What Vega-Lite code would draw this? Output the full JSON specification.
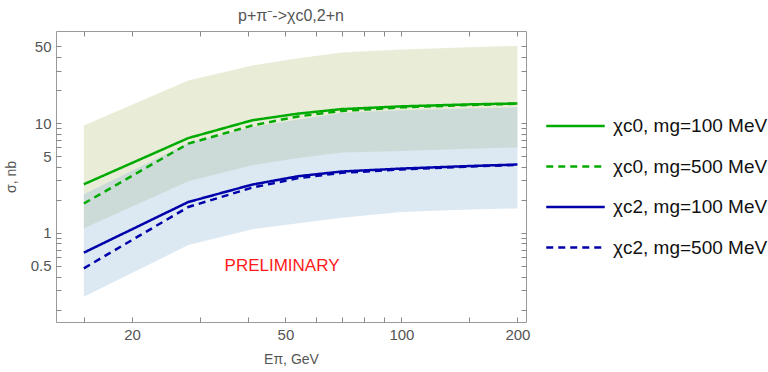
{
  "$schema": "https://vega.github.io/schema/vega-lite/v6.json",
  "autosize": "none",
  "width": 470,
  "height": 291,
  "padding": {"left": 56, "top": 31, "right": 242, "bottom": 50},
  "background": "white",
  "config": {
    "font": "Liberation Sans",
    "view": {"stroke": "#9a9a9a", "strokeWidth": 1},
    "axis": {"domain": false, "grid": false, "labelColor": "#555", "labelFontSize": 15, "titleColor": "#555", "titleFontSize": 14, "titleFontWeight": "normal", "tickColor": "#888", "tickSize": -5, "labelPadding": 10}
  },
  "title": {"text": "p+π⁻->χc0,2+n", "fontSize": 16, "fontWeight": "normal", "color": "#555", "anchor": "middle", "offset": 7},
  "datasets": {
    "bands": [
      {"E": 15, "band": "c0", "lo": 1.1, "hi": 9.5},
      {"E": 28, "band": "c0", "lo": 2.95, "hi": 24.4},
      {"E": 41, "band": "c0", "lo": 4.12, "hi": 33.5},
      {"E": 54, "band": "c0", "lo": 4.8, "hi": 39},
      {"E": 70, "band": "c0", "lo": 5.38, "hi": 44},
      {"E": 100, "band": "c0", "lo": 5.56, "hi": 46.8},
      {"E": 150, "band": "c0", "lo": 5.85, "hi": 49},
      {"E": 200, "band": "c0", "lo": 6.0, "hi": 50.5},
      {"E": 15, "band": "c2", "lo": 0.262, "hi": 2.25},
      {"E": 28, "band": "c2", "lo": 0.773, "hi": 6.6},
      {"E": 41, "band": "c2", "lo": 1.08, "hi": 9.2},
      {"E": 54, "band": "c2", "lo": 1.22, "hi": 10.8},
      {"E": 70, "band": "c2", "lo": 1.37, "hi": 12.4},
      {"E": 100, "band": "c2", "lo": 1.55, "hi": 13.1},
      {"E": 150, "band": "c2", "lo": 1.63, "hi": 13.6},
      {"E": 200, "band": "c2", "lo": 1.67, "hi": 13.9}
    ],
    "lines": [
      {"E": 15, "series": "χc0, mg=100 MeV", "sigma": 2.77},
      {"E": 28, "series": "χc0, mg=100 MeV", "sigma": 7.3},
      {"E": 41, "series": "χc0, mg=100 MeV", "sigma": 10.6},
      {"E": 54, "series": "χc0, mg=100 MeV", "sigma": 12.2},
      {"E": 70, "series": "χc0, mg=100 MeV", "sigma": 13.4},
      {"E": 100, "series": "χc0, mg=100 MeV", "sigma": 14.2},
      {"E": 150, "series": "χc0, mg=100 MeV", "sigma": 14.8},
      {"E": 200, "series": "χc0, mg=100 MeV", "sigma": 15.1},
      {"E": 15, "series": "χc0, mg=500 MeV", "sigma": 1.85},
      {"E": 28, "series": "χc0, mg=500 MeV", "sigma": 6.5},
      {"E": 41, "series": "χc0, mg=500 MeV", "sigma": 9.5},
      {"E": 54, "series": "χc0, mg=500 MeV", "sigma": 11.5},
      {"E": 70, "series": "χc0, mg=500 MeV", "sigma": 12.9},
      {"E": 100, "series": "χc0, mg=500 MeV", "sigma": 13.9},
      {"E": 150, "series": "χc0, mg=500 MeV", "sigma": 14.6},
      {"E": 200, "series": "χc0, mg=500 MeV", "sigma": 15.0},
      {"E": 15, "series": "χc2, mg=100 MeV", "sigma": 0.66},
      {"E": 28, "series": "χc2, mg=100 MeV", "sigma": 1.91},
      {"E": 41, "series": "χc2, mg=100 MeV", "sigma": 2.75},
      {"E": 54, "series": "χc2, mg=100 MeV", "sigma": 3.28},
      {"E": 70, "series": "χc2, mg=100 MeV", "sigma": 3.62},
      {"E": 100, "series": "χc2, mg=100 MeV", "sigma": 3.85},
      {"E": 150, "series": "χc2, mg=100 MeV", "sigma": 4.06},
      {"E": 200, "series": "χc2, mg=100 MeV", "sigma": 4.19},
      {"E": 15, "series": "χc2, mg=500 MeV", "sigma": 0.475},
      {"E": 28, "series": "χc2, mg=500 MeV", "sigma": 1.72},
      {"E": 41, "series": "χc2, mg=500 MeV", "sigma": 2.58},
      {"E": 54, "series": "χc2, mg=500 MeV", "sigma": 3.15},
      {"E": 70, "series": "χc2, mg=500 MeV", "sigma": 3.52},
      {"E": 100, "series": "χc2, mg=500 MeV", "sigma": 3.78},
      {"E": 150, "series": "χc2, mg=500 MeV", "sigma": 4.02},
      {"E": 200, "series": "χc2, mg=500 MeV", "sigma": 4.15}
    ],
    "notes": [{"E": 49, "sigma": 0.5, "text": "PRELIMINARY"}]
  },
  "resolve": {"axis": {"x": "independent", "y": "independent"}},
  "layer": [
    {
      "data": {"name": "bands"},
      "mark": {"type": "area", "opacity": 0.3},
      "encoding": {
        "x": {"field": "E", "type": "quantitative", "scale": {"type": "log", "domain": [12.7, 210.5], "nice": false},
          "axis": {"orient": "bottom", "title": "Eπ, GeV", "values": [15, 20, 30, 40, 50, 60, 70, 80, 90, 100, 150, 200], "format": "~g", "labelExpr": "indexof([20,50,100,200], datum.value) >= 0 ? datum.label : ''", "titlePadding": 10}},
        "y": {"field": "hi", "type": "quantitative", "scale": {"type": "log", "domain": [0.154, 69], "nice": false},
          "axis": {"orient": "left", "title": "σ, nb", "values": [0.2, 0.3, 0.4, 0.5, 0.6, 0.7, 0.8, 0.9, 1, 2, 3, 4, 5, 6, 7, 8, 9, 10, 20, 30, 40, 50], "format": "~g", "labelExpr": "indexof([0.5,1,5,10,50], datum.value) >= 0 ? datum.label : ''", "titlePadding": 12}},
        "y2": {"field": "lo"},
        "fill": {"field": "band", "type": "nominal", "scale": {"domain": ["c0", "c2"], "range": ["#b6c37d", "#8bb4d5"]}, "legend": null}
      }
    },
    {
      "data": {"name": "lines"},
      "mark": {"type": "line", "strokeWidth": 2.5},
      "encoding": {
        "x": {"field": "E", "type": "quantitative", "axis": null},
        "y": {"field": "sigma", "type": "quantitative", "axis": null},
        "stroke": {"field": "series", "type": "nominal",
          "scale": {"domain": ["χc0, mg=100 MeV", "χc0, mg=500 MeV", "χc2, mg=100 MeV", "χc2, mg=500 MeV"], "range": ["#00aa00", "#00aa00", "#0000aa", "#0000aa"]},
          "legend": {"title": null, "orient": "none", "legendX": 489, "legendY": 84, "symbolType": "M-1,0H5", "symbolSize": 380, "symbolStrokeWidth": 2.5, "labelFontSize": 19, "labelColor": "#111", "labelOffset": 46, "rowPadding": 19.5}},
        "strokeDash": {"field": "series", "type": "nominal",
          "scale": {"domain": ["χc0, mg=100 MeV", "χc0, mg=500 MeV", "χc2, mg=100 MeV", "χc2, mg=500 MeV"], "range": [[1, 0], [7, 5], [1, 0], [7, 5]]}}
      }
    },
    {
      "data": {"name": "notes"},
      "mark": {"type": "text", "color": "#ff1a1a", "fontSize": 17, "align": "center", "baseline": "middle"},
      "encoding": {
        "x": {"field": "E", "type": "quantitative", "axis": {"orient": "top", "title": null, "values": [15, 20, 30, 40, 50, 60, 70, 80, 90, 100, 150, 200], "labels": false}},
        "y": {"field": "sigma", "type": "quantitative", "axis": {"orient": "right", "title": null, "values": [0.2, 0.3, 0.4, 0.5, 0.6, 0.7, 0.8, 0.9, 1, 2, 3, 4, 5, 6, 7, 8, 9, 10, 20, 30, 40, 50], "labels": false}},
        "text": {"field": "text"}
      }
    }
  ]
}
